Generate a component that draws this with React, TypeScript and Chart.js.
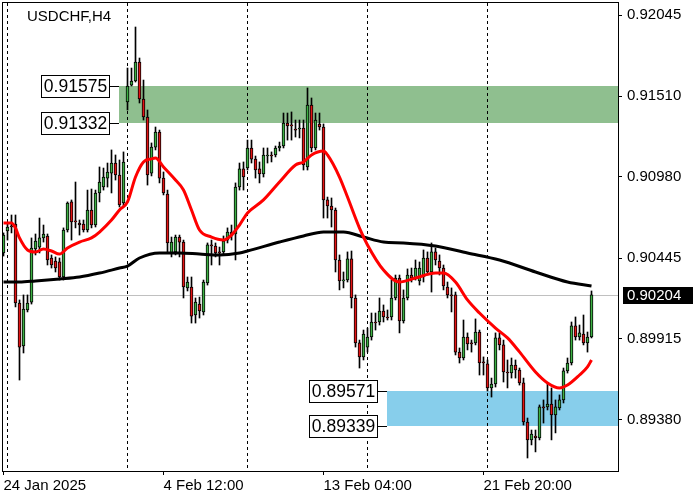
import React, { useEffect, useRef } from "react";
import { Chart, registerables } from "chart.js";

Chart.register(...registerables);

const symbolTitle = "USDCHF,H4";

const opens = [
  0.90479, 0.90624, 0.90657, 0.9067, 0.9015, 0.89867, 0.90104, 0.90156, 0.90505, 0.90518,
  0.90578, 0.90591, 0.90446, 0.90426, 0.9042, 0.90321, 0.9063, 0.90815, 0.9069, 0.90676,
  0.9067, 0.9063, 0.90762, 0.90663, 0.90874, 0.90913, 0.90972, 0.91005, 0.91071, 0.90992,
  0.90808, 0.91473, 0.91584, 0.91611, 0.91736, 0.91492, 0.91374, 0.91005, 0.91176, 0.91275,
  0.90972, 0.90867, 0.90479, 0.90486, 0.90584, 0.90551, 0.90249, 0.90255, 0.90071, 0.90143,
  0.90091, 0.90282, 0.90532, 0.90525, 0.90486, 0.90486, 0.90564, 0.90617, 0.90604, 0.90913,
  0.91032, 0.91038, 0.9117, 0.91097, 0.91032, 0.90999, 0.91117, 0.91124, 0.91124, 0.9117,
  0.91183, 0.91334, 0.91321, 0.91295, 0.91295, 0.91301, 0.91045, 0.91453, 0.9117, 0.91328,
  0.91308, 0.90828, 0.90788, 0.90762, 0.90433, 0.90295, 0.90301, 0.9044, 0.90183, 0.89887,
  0.89795, 0.8986, 0.89926, 0.90025, 0.90025, 0.90097, 0.90058, 0.90058, 0.90183, 0.90314,
  0.90032, 0.90183, 0.90334, 0.90314, 0.90295, 0.90321, 0.90446, 0.90354, 0.90486, 0.90426,
  0.9038, 0.90255, 0.90203, 0.90203, 0.89827, 0.89788, 0.89926, 0.89887, 0.89887, 0.89959,
  0.89762, 0.89749, 0.89591, 0.89617, 0.8992, 0.89874, 0.89696, 0.89689, 0.89742, 0.89709,
  0.89624, 0.89367, 0.89249, 0.89275, 0.89262, 0.89466, 0.89466, 0.89485, 0.89413, 0.89459,
  0.89512, 0.89703, 0.89755, 0.89999, 0.89926, 0.89946, 0.89887, 0.89926,
];

const highs = [
  0.90611, 0.90676, 0.90729, 0.90729, 0.9017, 0.90203, 0.90203, 0.90578, 0.90604, 0.90709,
  0.90663, 0.90604, 0.90466, 0.90453, 0.90446, 0.90644, 0.90815, 0.90828, 0.90946, 0.90696,
  0.90696, 0.90893, 0.909, 0.90893, 0.91045, 0.91038, 0.91071, 0.91157, 0.91124, 0.91091,
  0.91144, 0.91696, 0.91696, 0.91966, 0.91762, 0.91617, 0.9142, 0.91203, 0.91308, 0.91288,
  0.91012, 0.90893, 0.90584, 0.90597, 0.90597, 0.90564, 0.90321, 0.90321, 0.90183, 0.90189,
  0.90301, 0.90545, 0.90564, 0.90545, 0.90518, 0.90591, 0.90644, 0.90663, 0.9094, 0.91071,
  0.91078, 0.91222, 0.91222, 0.91117, 0.91078, 0.9117, 0.9117, 0.91144, 0.91183, 0.91209,
  0.914, 0.914, 0.91407, 0.91354, 0.91354, 0.91354, 0.91565, 0.91499, 0.914, 0.914,
  0.91328, 0.90847, 0.90841, 0.90775, 0.90466, 0.90354, 0.90486, 0.90492, 0.90203, 0.89906,
  0.89972, 0.89985, 0.90084, 0.90084, 0.90183, 0.90137, 0.90104, 0.90301, 0.90334, 0.90334,
  0.90236, 0.90374, 0.9038, 0.90433, 0.9042, 0.90499, 0.90486, 0.90545, 0.90512, 0.90466,
  0.904, 0.90288, 0.90249, 0.90222, 0.89854, 0.90038, 0.89953, 0.89906, 0.90045, 0.89972,
  0.89795, 0.89775, 0.89656, 0.89953, 0.89953, 0.89906, 0.89775, 0.89788, 0.89775, 0.89722,
  0.89656, 0.89393, 0.89314, 0.89314, 0.89479, 0.89512, 0.89624, 0.89591, 0.89512, 0.89545,
  0.89722, 0.89788, 0.90025, 0.90058, 0.90005, 0.90071, 0.89959, 0.90229,
];

const lows = [
  0.90459, 0.90564, 0.90611, 0.90124, 0.89643, 0.89821, 0.90091, 0.90143, 0.90466, 0.90479,
  0.90551, 0.904, 0.9038, 0.90354, 0.90301, 0.90301, 0.90617, 0.90564, 0.90644, 0.90597,
  0.90617, 0.90617, 0.90644, 0.9065, 0.90815, 0.90893, 0.90913, 0.90874, 0.90959, 0.90782,
  0.90782, 0.9142, 0.91578, 0.91604, 0.91466, 0.91354, 0.90926, 0.90986, 0.91157, 0.9094,
  0.90861, 0.90479, 0.90453, 0.90466, 0.90453, 0.90183, 0.90229, 0.90018, 0.90018, 0.90051,
  0.90071, 0.90268, 0.904, 0.90453, 0.904, 0.90466, 0.90545, 0.90564, 0.90433, 0.90893,
  0.90893, 0.91025, 0.91071, 0.90972, 0.9094, 0.90979, 0.91071, 0.91078, 0.91111, 0.9115,
  0.9117, 0.91222, 0.91222, 0.91242, 0.91236, 0.91025, 0.91025, 0.91144, 0.91157, 0.91288,
  0.90709, 0.90709, 0.9065, 0.90354, 0.90236, 0.90249, 0.90288, 0.90117, 0.8986, 0.89722,
  0.89775, 0.89827, 0.89906, 0.89972, 0.90005, 0.90025, 0.90038, 0.90038, 0.9017, 0.89953,
  0.90018, 0.9017, 0.90288, 0.90301, 0.90268, 0.90288, 0.90334, 0.90222, 0.904, 0.90334,
  0.90236, 0.90183, 0.90091, 0.89808, 0.89755, 0.89775, 0.89841, 0.89827, 0.89874, 0.89676,
  0.89676, 0.89571, 0.89531, 0.89597, 0.89841, 0.8963, 0.89591, 0.89656, 0.89656, 0.8961,
  0.89347, 0.8913, 0.89216, 0.8917, 0.89249, 0.8936, 0.89446, 0.89249, 0.89295, 0.89446,
  0.89492, 0.89689, 0.89742, 0.89906, 0.89906, 0.89874, 0.89827, 0.8992,
];

const closes = [
  0.90597, 0.9065, 0.9065, 0.9015, 0.8986, 0.9011, 0.9015, 0.90512, 0.90558, 0.90578,
  0.90604, 0.90433, 0.904, 0.9038, 0.90321, 0.9063, 0.90808, 0.90683, 0.90683, 0.90663,
  0.9063, 0.90762, 0.90663, 0.90874, 0.90946, 0.90979, 0.91012, 0.91071, 0.90992, 0.90795,
  0.91078, 0.91578, 0.91611, 0.91736, 0.91492, 0.91374, 0.90992, 0.91176, 0.91275, 0.90972,
  0.90874, 0.90545, 0.90551, 0.90584, 0.90551, 0.90255, 0.90288, 0.90064, 0.90156, 0.90097,
  0.90288, 0.90532, 0.90525, 0.90479, 0.90479, 0.90558, 0.90617, 0.90591, 0.90913, 0.91032,
  0.90979, 0.9117, 0.91097, 0.91025, 0.90999, 0.91124, 0.91124, 0.91117, 0.9117, 0.91183,
  0.91334, 0.91315, 0.91315, 0.91288, 0.91301, 0.91058, 0.91453, 0.9117, 0.91354, 0.91308,
  0.90828, 0.90788, 0.90762, 0.90433, 0.90295, 0.90301, 0.9044, 0.90183, 0.89887, 0.89795,
  0.89946, 0.89926, 0.90025, 0.90018, 0.90097, 0.90058, 0.90051, 0.90183, 0.90314, 0.90032,
  0.90183, 0.90334, 0.90314, 0.9038, 0.9038, 0.90446, 0.90354, 0.90486, 0.90433, 0.9038,
  0.90262, 0.90203, 0.90196, 0.89827, 0.89788, 0.89926, 0.8988, 0.8988, 0.89959, 0.89755,
  0.89755, 0.89591, 0.89617, 0.8992, 0.89874, 0.89696, 0.89689, 0.89742, 0.89709, 0.89624,
  0.89367, 0.89249, 0.89288, 0.89262, 0.89466, 0.89459, 0.89485, 0.89413, 0.89466, 0.89512,
  0.89703, 0.89755, 0.89999, 0.89926, 0.89953, 0.89887, 0.89926, 0.90204,
];

// fast (red) moving average
const fastMaIndex = [
  0, 2, 3, 4, 6, 8, 10, 12, 14, 16, 19, 22, 24, 27, 29, 31, 33, 35, 37, 38, 40, 43, 45, 47, 49,
  52, 55, 57, 59, 61, 65, 69, 73, 75, 77, 80, 81, 84, 86, 89, 91, 95, 99, 103, 108, 110, 113,
  116, 119, 123, 126, 129, 133, 136, 139, 141, 144, 146, 147,
];
const fastMaValue = [
  0.90676, 0.90676, 0.90643, 0.90578, 0.90499, 0.90486, 0.90505, 0.90492, 0.90472, 0.90512,
  0.90551, 0.90578, 0.90617, 0.90696, 0.90762, 0.90815, 0.90979, 0.91078, 0.91098, 0.91104,
  0.91045, 0.90959, 0.90894, 0.90762, 0.9063, 0.90584, 0.90565, 0.90597, 0.90663, 0.90742,
  0.90828, 0.90946, 0.91058, 0.91078, 0.91124, 0.9115, 0.91124, 0.90979, 0.90847, 0.90643,
  0.90532, 0.90367, 0.90288, 0.90314, 0.90347, 0.90347, 0.90288, 0.9017, 0.90084, 0.89985,
  0.8992, 0.89828, 0.89696, 0.89624, 0.89591, 0.8961, 0.89676, 0.89729, 0.89775,
];

// slow (black) moving average
const slowMaIndex = [
  0, 4, 8, 14, 19, 24, 29, 31, 34, 39, 44, 49, 54, 59, 61, 69, 75, 80, 85, 90, 95, 100, 108,
  116, 124, 133, 141, 147,
];
const slowMaValue = [
  0.90288, 0.90288, 0.90295, 0.90308, 0.90321, 0.90347, 0.9038, 0.90393, 0.90446, 0.90479,
  0.90479, 0.90472, 0.90466, 0.90479, 0.90492, 0.90551, 0.90591, 0.90617, 0.90617, 0.90584,
  0.90551, 0.90545, 0.90525, 0.90479, 0.90433, 0.90354, 0.90288, 0.90262,
];

const yTickValues = [0.92045, 0.9151, 0.9098, 0.90445, 0.89915, 0.8938];
const xTickIndex = [0, 40, 80, 120];
const xTickLabels = ["24 Jan 2025", "4 Feb 12:00", "13 Feb 04:00", "21 Feb 20:00"];
const separatorIndex = [1, 31, 61, 91, 121];

const resistanceZone = [0.91332, 0.91575];
const supportZone = [0.89339, 0.89571];
const zoneStartIndex = [28.9, 95.9];
const currentPrice = 0.90204;

const FONT = "'Liberation Sans', Arial, sans-serif";
const BULL = "#3cb043";
const BEAR = "#e31414";

export default function App() {
  const ref = useRef<HTMLCanvasElement | null>(null);

  useEffect(() => {
    const canvas = ref.current;
    if (!canvas) return;

    const bodies = opens.map((o, i) => ({ x: i, y: [o, closes[i]] }));
    const wicks = lows.map((l, i) => ({ x: i, y: [l, highs[i]] }));
    const bodyColors = opens.map((o, i) =>
      Math.abs(closes[i] - o) < 0.00003 ? "#000000" : closes[i] >= o ? BULL : BEAR
    );

    const overlay = {
      id: "overlay",
      beforeDatasetsDraw(chart: any) {
        const { ctx, chartArea: a, scales } = chart;
        const xs = scales.x;
        const ys = scales.y;
        ctx.save();
        const zones: [number[], number, string][] = [
          [resistanceZone, zoneStartIndex[0], "#8fbf8f"],
          [supportZone, zoneStartIndex[1], "#87ceeb"],
        ];
        for (const [z, s, col] of zones) {
          const x0 = Math.round(xs.getPixelForValue(s));
          const yTop = Math.round(ys.getPixelForValue(z[1]));
          const yBot = Math.round(ys.getPixelForValue(z[0]));
          ctx.fillStyle = col;
          ctx.fillRect(x0, yTop, a.right - x0, yBot - yTop);
        }
        ctx.strokeStyle = "#000";
        ctx.lineWidth = 1;
        ctx.setLineDash([3, 3]);
        for (const s of separatorIndex) {
          const px = Math.floor(xs.getPixelForValue(s)) + 0.5;
          ctx.beginPath();
          ctx.moveTo(px, a.top);
          ctx.lineTo(px, a.bottom);
          ctx.stroke();
        }
        ctx.setLineDash([]);
        const py = Math.round(ys.getPixelForValue(currentPrice)) + 0.5;
        ctx.strokeStyle = "#c0c0c0";
        ctx.beginPath();
        ctx.moveTo(0, py);
        ctx.lineTo(a.right, py);
        ctx.stroke();
        ctx.restore();
      },
      afterDatasetsDraw(chart: any) {
        const { ctx, chartArea: a, scales } = chart;
        const xs = scales.x;
        const ys = scales.y;
        ctx.save();
        // frame
        ctx.strokeStyle = "#000";
        ctx.lineWidth = 1;
        ctx.strokeRect(a.left + 0.5, a.top - 0.5, a.right - a.left, a.bottom - a.top + 1);

        // zone labels
        const labelSets: [number[], number][] = [
          [resistanceZone, zoneStartIndex[0]],
          [supportZone, zoneStartIndex[1]],
        ];
        ctx.font = "17.5px " + FONT;
        ctx.textAlign = "center";
        ctx.textBaseline = "middle";
        for (const [z, s] of labelSets) {
          const zx = Math.round(xs.getPixelForValue(s));
          const bw = 68;
          const bh = 22;
          const bx = zx - 10 - bw;
          for (const lvl of z) {
            const ly = Math.round(ys.getPixelForValue(lvl)) + 0.5;
            ctx.strokeStyle = "#000";
            ctx.beginPath();
            ctx.moveTo(bx + bw, ly);
            ctx.lineTo(zx, ly);
            ctx.stroke();
            ctx.fillStyle = "#fff";
            ctx.fillRect(bx + 0.5, ly - bh / 2, bw, bh);
            ctx.strokeRect(bx + 0.5, ly - bh / 2, bw, bh);
            ctx.fillStyle = "#000";
            ctx.fillText(lvl.toFixed(5), bx + bw / 2 + 0.5, ly + 1);
          }
        }

        // title
        ctx.font = "15px " + FONT;
        ctx.textAlign = "left";
        ctx.textBaseline = "alphabetic";
        ctx.fillStyle = "#000";
        ctx.fillText(symbolTitle, 27, 21);

        // current price box
        const py = Math.round(ys.getPixelForValue(currentPrice)) + 0.5;
        ctx.fillStyle = "#000";
        ctx.fillRect(a.right + 5, py - 8.5, 70, 17);
        ctx.fillStyle = "#fff";
        ctx.textBaseline = "middle";
        ctx.fillText(currentPrice.toFixed(5), a.right + 9, py + 0.5);
        ctx.restore();
      },
    };

    const chart = new Chart(canvas, {
      type: "bar",
      data: {
        datasets: [
          {
            type: "line",
            data: fastMaIndex.map((x, k) => ({ x, y: fastMaValue[k] })),
            borderColor: "#ff0000",
            borderWidth: 3,
            pointRadius: 0,
            fill: false,
            cubicInterpolationMode: "monotone",
            order: 0,
          } as any,
          {
            type: "line",
            data: slowMaIndex.map((x, k) => ({ x, y: slowMaValue[k] })),
            borderColor: "#000000",
            borderWidth: 3,
            pointRadius: 0,
            fill: false,
            cubicInterpolationMode: "monotone",
            order: 0,
          } as any,
          {
            type: "bar",
            data: bodies,
            backgroundColor: bodyColors,
            borderColor: "#000000",
            borderWidth: 1,
            borderSkipped: false,
            grouped: false,
            maxBarThickness: 3,
            barPercentage: 1,
            categoryPercentage: 1,
            minBarLength: 1,
            order: 1,
          } as any,
          {
            type: "bar",
            data: wicks,
            backgroundColor: "#000000",
            borderWidth: 0,
            grouped: false,
            maxBarThickness: 1,
            barPercentage: 1,
            categoryPercentage: 1,
            order: 2,
          } as any,
        ],
      },
      options: {
        animation: false,
        responsive: false,
        devicePixelRatio: 1,
        layout: { padding: { left: 2, top: 3, right: 0, bottom: 0 } },
        plugins: {
          legend: { display: false },
          tooltip: { enabled: false },
        },
        scales: {
          x: {
            type: "linear",
            position: "bottom",
            min: -0.375,
            max: 153.625,
            offset: false,
            bounds: "data",
            afterBuildTicks: (s: any) => {
              s.ticks = xTickIndex.map((v) => ({ value: v }));
            },
            afterFit: (s: any) => {
              s.height = 29;
              s.paddingLeft = 0;
              s.paddingRight = 0;
              s.paddingTop = 0;
              s.paddingBottom = 0;
            },
            grid: {
              offset: false,
              drawOnChartArea: false,
              drawTicks: true,
              tickLength: 4,
              color: "#000",
              tickColor: "#000",
              lineWidth: 1,
            },
            border: { display: false },
            ticks: {
              align: "start",
              autoSkip: false,
              maxRotation: 0,
              minRotation: 0,
              padding: 2,
              color: "#000",
              font: { size: 15, family: FONT },
              callback: (v: any) => {
                const k = xTickIndex.indexOf(Number(v));
                return k >= 0 ? xTickLabels[k] : "";
              },
            },
          },
          y: {
            type: "linear",
            position: "right",
            min: 0.890444,
            max: 0.92124,
            bounds: "data",
            afterBuildTicks: (s: any) => {
              s.ticks = yTickValues.map((v) => ({ value: v }));
            },
            afterFit: (s: any) => {
              s.width = 82;
              s.paddingLeft = 0;
              s.paddingRight = 0;
              s.paddingTop = 0;
              s.paddingBottom = 0;
            },
            grid: {
              drawOnChartArea: false,
              drawTicks: true,
              tickLength: 4,
              color: "#000",
              tickColor: "#000",
              lineWidth: 1,
            },
            border: { display: false },
            ticks: {
              padding: 5,
              autoSkip: false,
              color: "#000",
              font: { size: 15, family: FONT },
              callback: (v: any) => Number(v).toFixed(5),
            },
          },
        },
      } as any,
      plugins: [overlay],
    });

    return () => chart.destroy();
  }, []);

  return (
    <div style={{ position: "absolute", left: 0, top: 0, width: 700, height: 500, background: "#fff" }}>
      <canvas ref={ref} width={700} height={500} style={{ display: "block", width: 700, height: 500 }} />
    </div>
  );
}
